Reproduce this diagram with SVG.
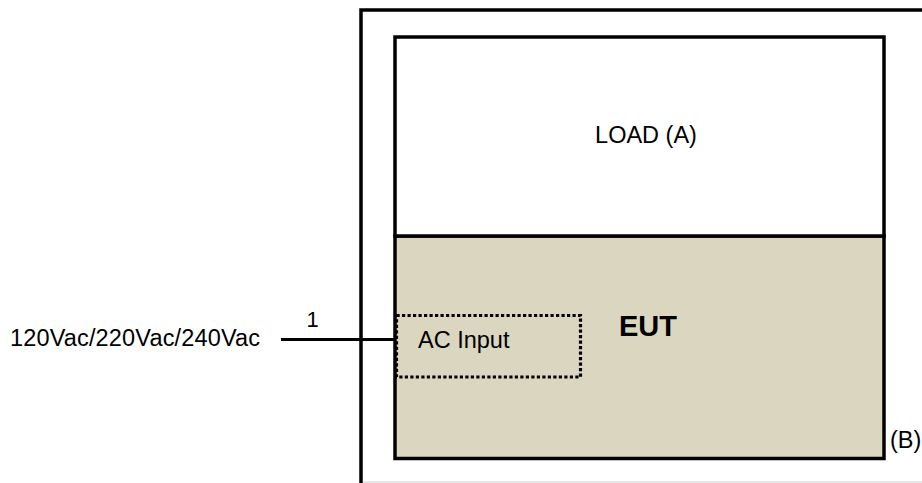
<svg xmlns="http://www.w3.org/2000/svg" width="922" height="483" viewBox="0 0 922 483">
<style>
text{font-family:"Liberation Sans",Arial,sans-serif;fill:#000}
.lbl{font-size:23.5px}
.box{stroke:#000;stroke-width:3.5}
</style>
<rect width="922" height="483" fill="#fff"/>
<g id="enclosure">
<path d="M361,483 V10 H922" fill="none" class="box"/>
<line x1="363" y1="482" x2="922" y2="482" stroke="#d0d0d0" stroke-width="1.2"/>
</g>
<g id="eut">
<rect x="395" y="236" width="489" height="222.5" fill="#DAD6C0" class="box"/>
<text x="619" y="336" font-size="29" font-weight="bold">EUT</text>
<text class="lbl" x="890" y="448">(B)</text>
</g>
<g id="load">
<rect x="395" y="37" width="489" height="199" fill="#fff" class="box"/>
<text class="lbl" x="646" y="143" text-anchor="middle">LOAD (A)</text>
</g>
<g id="ac-input">
<rect x="396.5" y="315.5" width="184" height="61.5" fill="none" stroke="#000" stroke-width="3.2" stroke-dasharray="3.2 2.3"/>
<text class="lbl" x="418" y="348">AC Input</text>
</g>
<g id="source">
<text class="lbl" x="10" y="346" textLength="250">120Vac/220Vac/240Vac</text>
</g>
<g id="connectors">
<line x1="281" y1="339.5" x2="396" y2="339.5" stroke="#000" stroke-width="3"/>
<text x="312.5" y="327" font-size="22" text-anchor="middle">1</text>
</g>
</svg>
